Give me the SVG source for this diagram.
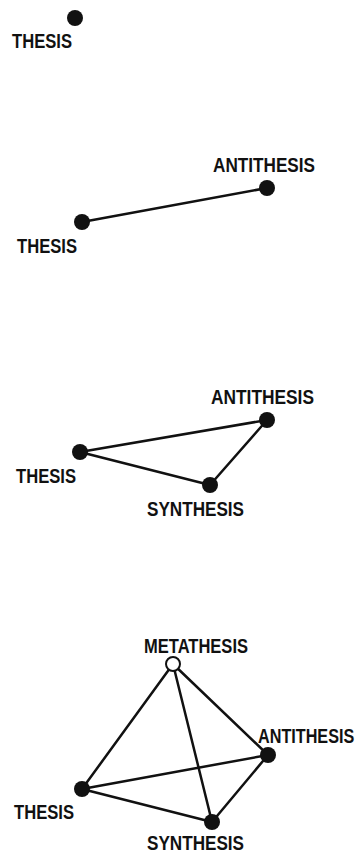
<svg xmlns="http://www.w3.org/2000/svg" width="359" height="854" viewBox="0 0 359 854">
<style>
.lbl{font-family:"Liberation Sans",Arial,sans-serif;font-weight:bold;font-size:20px;fill:#111;}
.dot{fill:#111;}
.open{fill:#fff;stroke:#111;stroke-width:2;}
.edge{stroke:#111;stroke-width:2.5;fill:none;stroke-linecap:round;}
</style>
<rect width="359" height="854" fill="#fff"/>
<g id="connectors">
<line class="edge" x1="82" y1="222" x2="267" y2="188"/>
<line class="edge" x1="80" y1="452" x2="267" y2="420"/>
<line class="edge" x1="80" y1="452" x2="210" y2="485"/>
<line class="edge" x1="210" y1="485" x2="267" y2="420"/>
<line class="edge" x1="173" y1="664" x2="82" y2="789"/>
<line class="edge" x1="173" y1="664" x2="268" y2="755"/>
<line class="edge" x1="173" y1="664" x2="212" y2="822"/>
<line class="edge" x1="82" y1="789" x2="268" y2="755"/>
<line class="edge" x1="82" y1="789" x2="212" y2="822"/>
<line class="edge" x1="212" y1="822" x2="268" y2="755"/>
</g>
<g id="d1-thesis"><circle class="dot" cx="75" cy="18" r="8"/><text class="lbl" x="12" y="48" textLength="60" lengthAdjust="spacingAndGlyphs">THESIS</text></g>
<g id="d2-thesis"><circle class="dot" cx="82" cy="222" r="8"/><text class="lbl" x="17" y="253" textLength="60" lengthAdjust="spacingAndGlyphs">THESIS</text></g>
<g id="d2-antithesis"><circle class="dot" cx="267" cy="188" r="8"/><text class="lbl" x="213" y="172" textLength="102" lengthAdjust="spacingAndGlyphs">ANTITHESIS</text></g>
<g id="d3-thesis"><circle class="dot" cx="80" cy="452" r="8"/><text class="lbl" x="16" y="483" textLength="60" lengthAdjust="spacingAndGlyphs">THESIS</text></g>
<g id="d3-antithesis"><circle class="dot" cx="267" cy="420" r="8"/><text class="lbl" x="211" y="404" textLength="103" lengthAdjust="spacingAndGlyphs">ANTITHESIS</text></g>
<g id="d3-synthesis"><circle class="dot" cx="210" cy="485" r="8"/><text class="lbl" x="147" y="516" textLength="97" lengthAdjust="spacingAndGlyphs">SYNTHESIS</text></g>
<g id="d4-metathesis"><circle class="open" cx="173" cy="664" r="7"/><text class="lbl" x="144" y="653" textLength="104" lengthAdjust="spacingAndGlyphs">METATHESIS</text></g>
<g id="d4-antithesis"><circle class="dot" cx="268" cy="755" r="8"/><text class="lbl" transform="translate(258,743) scale(0.81,1)">ANTITHESIS</text></g>
<g id="d4-thesis"><circle class="dot" cx="82" cy="789" r="8"/><text class="lbl" x="14" y="819" textLength="60" lengthAdjust="spacingAndGlyphs">THESIS</text></g>
<g id="d4-synthesis"><circle class="dot" cx="212" cy="822" r="8"/><text class="lbl" x="147" y="850" textLength="97" lengthAdjust="spacingAndGlyphs">SYNTHESIS</text></g>
</svg>
